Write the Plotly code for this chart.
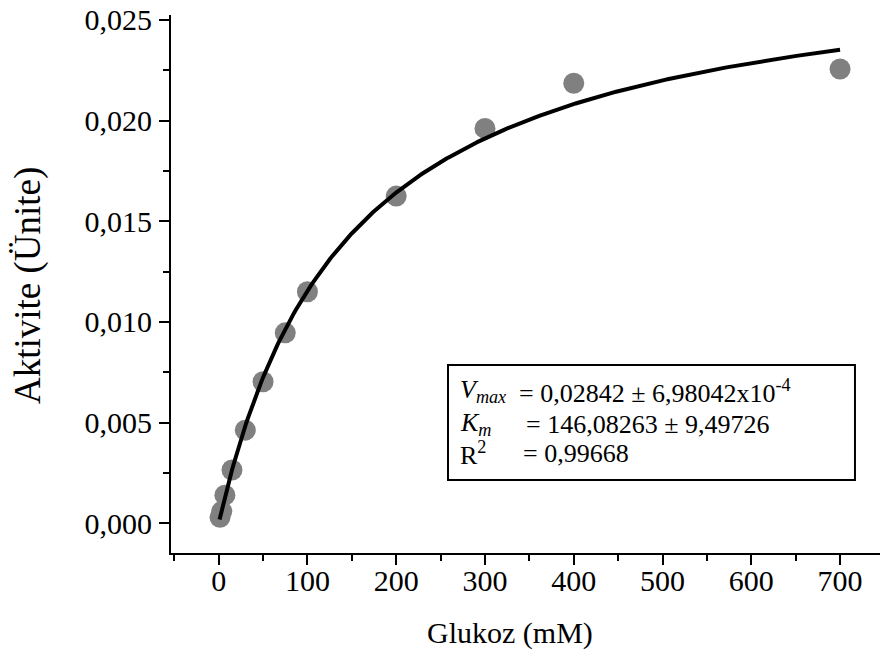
import numpy as np
import plotly.graph_objects as go

# ---- data ----
glucose_mM = [1.5, 3.5, 7, 15, 30, 50, 75, 100, 200, 300, 400, 700]
activity_U = [0.00030, 0.00060, 0.00140, 0.00265, 0.00463, 0.00703,
              0.00946, 0.01150, 0.01625, 0.01961, 0.02185, 0.02256]

# Michaelis-Menten fit parameters shown in the chart
Vmax = 0.02842
Km = 146.08263
fit_x_start, fit_x_end = 1.0, 700.0

x_tick_vals = [0, 100, 200, 300, 400, 500, 600, 700]
y_tick_vals = [0.000, 0.005, 0.010, 0.015, 0.020, 0.025]

fit_x = np.linspace(fit_x_start, fit_x_end, 400)
fit_y = Vmax * fit_x / (Km + fit_x)

FONT = "Liberation Serif"

fig = go.Figure()
fig.add_trace(go.Scatter(
    x=glucose_mM, y=activity_U, mode="markers",
    marker=dict(size=21, color="#808080", line=dict(width=0)),
    showlegend=False, hoverinfo="skip"))
fig.add_trace(go.Scatter(
    x=fit_x, y=fit_y, mode="lines",
    line=dict(color="black", width=4),
    showlegend=False, hoverinfo="skip"))

axis_common = dict(
    showline=True, linecolor="black", linewidth=2,
    showgrid=False, zeroline=False, mirror=False,
    ticks="outside", ticklen=10, tickwidth=2, tickcolor="black",
    tickfont=dict(family=FONT, size=30, color="black"),
)

fig.update_xaxes(
    **axis_common,
    range=[-53.7, 745],
    tickvals=x_tick_vals,
    ticklabelstandoff=-10,
    minor=dict(dtick=50, tick0=0, ticks="outside", ticklen=6,
               tickwidth=2, tickcolor="black", showgrid=False),
)
fig.update_yaxes(
    **axis_common,
    range=[-0.00147, 0.02524],
    tickvals=y_tick_vals,
    tickformat=".3f",
    ticklabelstandoff=1,
    minor=dict(dtick=0.0025, tick0=0, ticks="outside", ticklen=6,
               tickwidth=2, tickcolor="black", showgrid=False),
)

W0, H0 = 171.0, 553.0
PW, PH = 709.0, 538.0

def px(xp):
    return (xp - W0) / PW

def py(yp):
    return (H0 - yp) / PH

# axis titles (as annotations for exact placement)
fig.add_annotation(xref="paper", yref="paper", x=px(510), y=py(633),
                   text="Glukoz (mM)", showarrow=False, xanchor="center", yanchor="middle",
                   font=dict(family=FONT, size=30, color="black"))
fig.add_annotation(xref="paper", yref="paper", x=px(28), y=py(286),
                   text="Aktivite (Ünite)", showarrow=False, textangle=-90,
                   xanchor="center", yanchor="middle",
                   font=dict(family=FONT, size=37, color="black"))

# annotation box
fig.add_shape(type="rect", xref="paper", yref="paper",
              x0=0.3907, x1=0.9647, y0=0.1357, y1=0.3494,
              line=dict(color="black", width=2), fillcolor="white", layer="above")

ann_font = dict(family=FONT, size=26, color="black")
lines = [
    ("<i>V<sub>max</sub></i>", "= 0,02842 ± 6,98042x10<sup>-4</sup>", 391, 518),
    ("<i>K<sub>m</sub></i>", "= 146,08263 ± 9,49726", 424, 525),
    ("R<sup>2</sup>", "= 0,99668", 453, 522),
]
for label, value, yc, xv in lines:
    fig.add_annotation(xref="paper", yref="paper", x=px(459), y=py(yc),
                       text=label, showarrow=False, xanchor="left", yanchor="middle",
                       font=ann_font, borderpad=0)
    fig.add_annotation(xref="paper", yref="paper", x=px(xv), y=py(yc),
                       text=value, showarrow=False, xanchor="left", yanchor="middle",
                       font=ann_font, borderpad=0)

fig.update_layout(
    width=884, height=654,
    margin=dict(l=171, r=4, t=15, b=101),
    paper_bgcolor="white", plot_bgcolor="white",
    separators=",.",
    font=dict(family=FONT, color="black"),
)

fig.write_html("out.html")
